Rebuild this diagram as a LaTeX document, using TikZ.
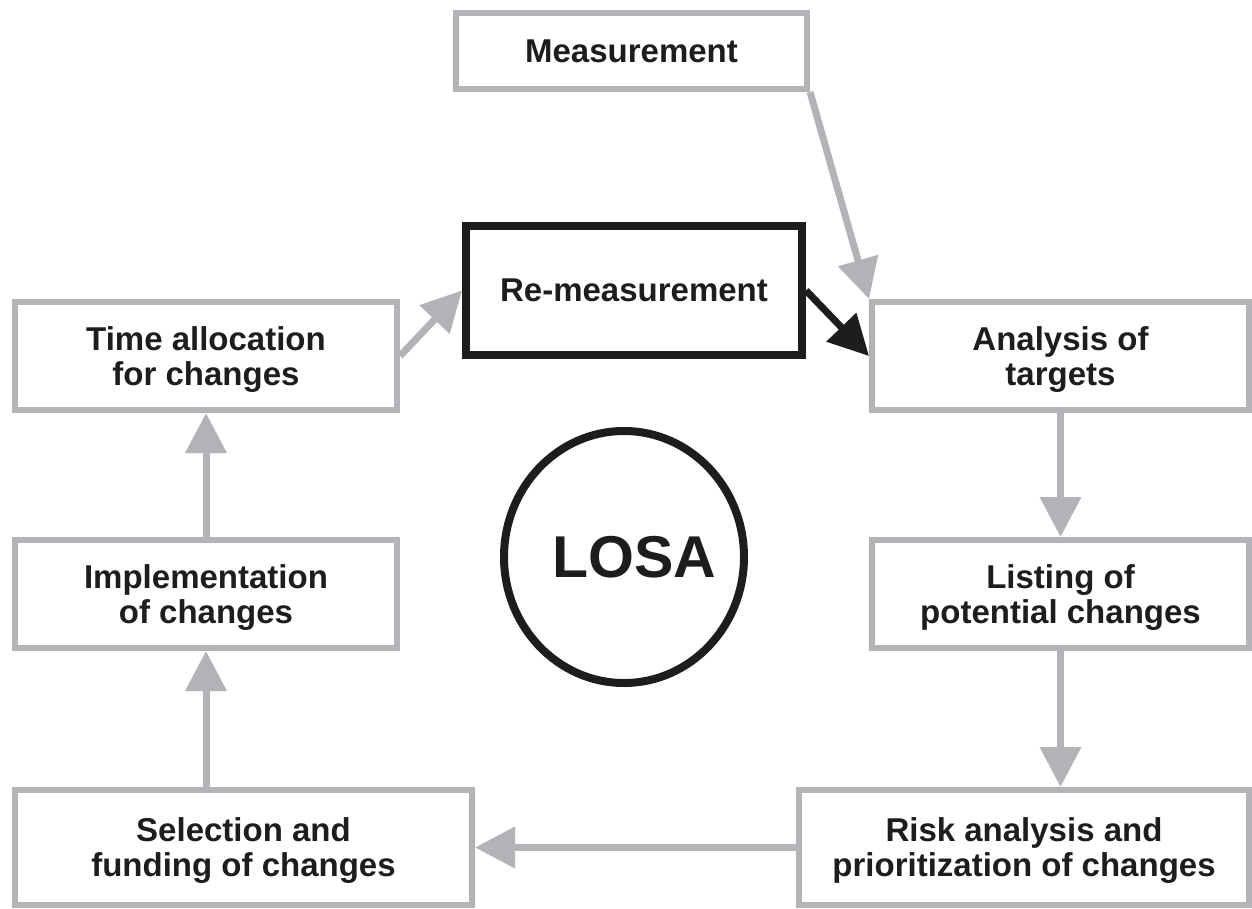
\documentclass[tikz,border=0pt]{standalone}
\usepackage{fontspec}
\setmainfont{Liberation Sans}
\usetikzlibrary{arrows.meta,shapes.geometric}
\definecolor{losagray}{RGB}{177,179,182}
\definecolor{inkblack}{RGB}{30,28,29}

\begin{document}
\begin{tikzpicture}[x=0.5pt,y=-0.5pt]
  \tikzstyle{every node}=[align=center,text=inkblack,font=\fontsize{16.5}{17.5}\selectfont\bfseries]
  \tikzstyle{stage}=[rectangle,draw=losagray,line width=3pt,text depth=0pt]
  \tikzstyle{keystage}=[rectangle,draw=inkblack,line width=4pt]
  \tikzstyle{flow}=[-{Triangle[length=20pt,width=20pt]},line width=3.5pt,draw=losagray]

  \useasboundingbox (0,0) rectangle (1252,909);

  \node[stage,minimum width=175.5pt,minimum height=38pt]   (meas)   at (631.5,51)    {Measurement};
  \node[keystage,minimum width=168pt,minimum height=64.5pt] (remeas) at (634,290.5)   {Re-measurement};
  \node[stage,minimum width=191pt,minimum height=54pt]     (time)   at (206,356)     {Time allocation\\for changes};
  \node[stage,minimum width=188.5pt,minimum height=54pt]   (anal)   at (1060.5,356)  {Analysis of\\targets};
  \node[stage,minimum width=191pt,minimum height=54pt]     (impl)   at (206,594)     {Implementation\\of changes};
  \node[stage,minimum width=188.5pt,minimum height=54pt]   (list)   at (1060.5,594)  {Listing of\\potential changes};
  \node[stage,minimum width=228.5pt,minimum height=57.5pt] (sel)    at (243.5,847.5) {Selection and\\funding of changes};
  \node[stage,minimum width=225pt,minimum height=57.5pt]   (risk)   at (1024,847.5)  {Risk analysis and\\prioritization of changes};

  \node[ellipse,draw=inkblack,line width=4pt,inner sep=0pt,minimum width=120pt,minimum height=126pt,
        font=\fontsize{29.5}{30}\selectfont\bfseries] (losa) at (624,557) {\hspace*{5pt}LOSA\hspace*{-5pt}};

  \draw[flow] (meas.south east) -- (anal.north west);
  \draw[flow,draw=inkblack] (remeas.east) -- (anal.west);
  \draw[flow] (time.east) -- (remeas.west);
  \draw[flow] (anal.south) -- (list.north);
  \draw[flow] (list.south) -- (list.south |- risk.north);
  \draw[flow] (risk.west) -- (sel.east);
  \draw[flow] (impl.south |- sel.north) -- (impl.south);
  \draw[flow] (impl.north) -- (time.south);
\end{tikzpicture}
\end{document}
